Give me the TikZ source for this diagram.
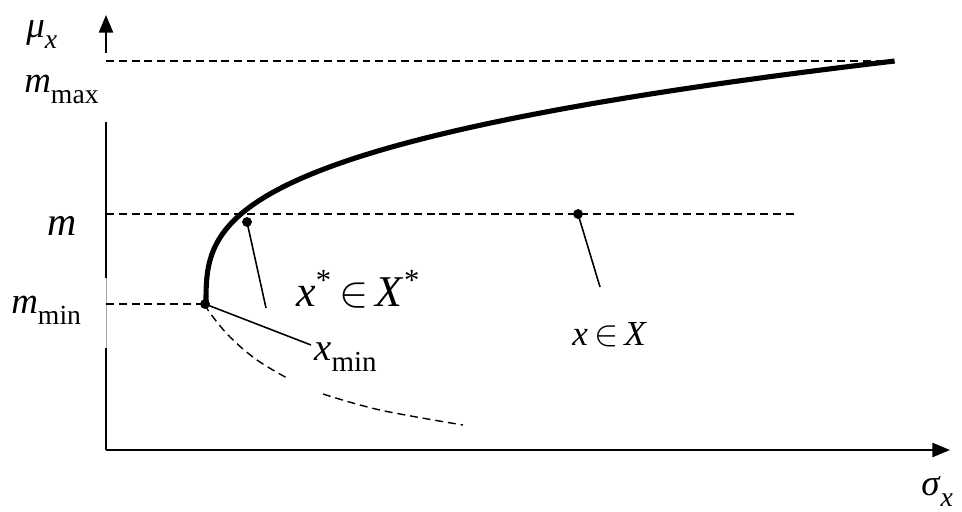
\documentclass[tikz,border=0pt]{standalone}
\usepackage{fontspec}
\setmainfont{Liberation Serif}
\usepackage{tikz}
\usetikzlibrary{arrows.meta}
\newcommand{\fsz}[1]{\fontsize{#1}{#1}\selectfont}
\newcommand{\lowsub}[1]{\raisebox{-0.3em}{\scalebox{0.75}{#1}}}

\begin{document}
\begin{tikzpicture}[x=0.02cm,y=-0.02cm,
		axis/.style={line width=1.2pt},
		arr/.style={-{Triangle[length=10pt,width=8pt]}},
		level/.style={line width=0.8pt, dash pattern=on 4.5pt off 2.8pt},
		front/.style={line width=2.9pt},
		lead/.style={line width=0.9pt},
		lbl/.style={inner sep=0pt, anchor=base west}]
		\useasboundingbox (0,0) rectangle (962,511);

		\coordinate (O) at (106,450);
		\coordinate (ytop) at (106,15);
		\coordinate (xend) at (950,450);
		\coordinate (ya) at (106,348);
		\coordinate (yb) at (106,278);
		\coordinate (yc) at (106,122);
		\coordinate (yd) at (106,53);

		\draw[axis] (O) -- (ya);
		\draw[line width=0.4pt, gray!70] (ya) -- (yb);
		\draw[axis] (yb) -- (yc);
		\draw[axis, arr] (yd) -- (ytop);
		\draw[axis, arr] (O) -- (xend);

		\coordinate (xmin) at (205,304);
		\coordinate (xs) at (247,222);
		\coordinate (xx) at (578,214);

		\draw[level] (106,61) -- (880,61);
		\draw[level] (106,214) -- (797,214);
		\draw[level] (106,304) -- (xmin);

		\draw[level] plot[smooth, tension=0.6] coordinates {(205,304) (210,313) (230,337) (257,360) (287,378)};
		\draw[level] plot[smooth, tension=0.6] coordinates {(323,394) (380,410) (463,425)};

		\draw[front] plot[domain=0:2.43, samples=60, smooth] ({206+48*\x*\x*\x},{304-100*\x});

		\node[lbl] (mu) at (26,37) {\fsz{21pt}\textit{μ}\lowsub{\textit{x}}};
		\node[lbl] (mmax) at (24,92) {\fsz{21pt}\textit{m}\lowsub{max}};
		\node[lbl] (m) at (47,235) {\fsz{23pt}\textit{m}};
		\node[lbl] (mmin) at (11,313) {\fsz{21pt}\textit{m}\lowsub{min}};
		\node[lbl] (xsl) at (296,306) {\fsz{25pt}\textit{x}\textsuperscript{*}$\,\in\,$\textit{X}\textsuperscript{*}};
		\node[lbl] (xminl) at (314,360) {\fsz{22pt}\textit{x}\lowsub{min}};
		\node[lbl] (xl) at (572,345) {\fsz{20pt}\textit{x}$\,\in\,$\textit{X}};
		\node[lbl] (sig) at (921,495) {\fsz{21pt}\textit{σ}\lowsub{\textit{x}}};

		\coordinate (xsend) at (266,308);
		\coordinate (xminend) at (311,345);
		\coordinate (xxend) at (600,287);
		\draw[lead] (xs) -- (xsend);
		\draw[lead] (xmin) -- (xminend);
		\draw[lead] (xx) -- (xxend);

		\filldraw[black] (xmin) circle (4.5);
		\filldraw[black] (xs) circle (4.5);
		\filldraw[black] (xx) circle (4.5);
	\end{tikzpicture}
\end{document}
